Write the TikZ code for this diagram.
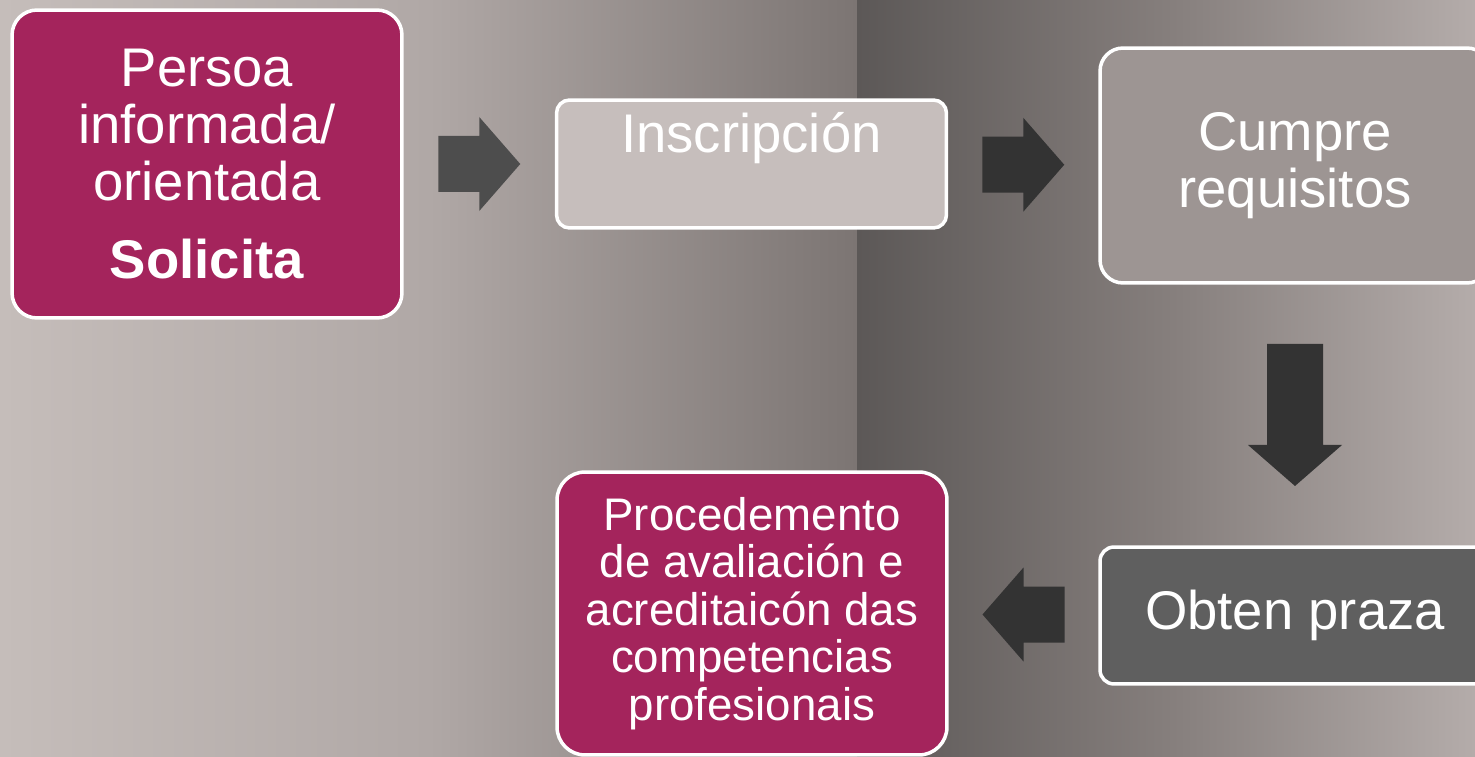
\documentclass[tikz,border=0pt]{standalone}
\usepackage{fontspec}
\setmainfont{Liberation Sans}
\usetikzlibrary{calc, positioning}

\definecolor{plum}{HTML}{A4245C}
\definecolor{paleboxgray}{HTML}{C6BEBC}
\definecolor{midboxgray}{HTML}{9D9593}
\definecolor{darkboxgray}{HTML}{5F5F5F}
\definecolor{arrowdark}{HTML}{333333}
\definecolor{arrowsoft}{HTML}{4D4D4D}
\definecolor{bgleftA}{HTML}{C5BDBA}
\definecolor{bgleftB}{HTML}{B0A8A6}
\definecolor{bgleftC}{HTML}{7C7573}
\definecolor{bgrightA}{HTML}{5C5857}
\definecolor{bgrightB}{HTML}{857E7C}
\definecolor{bgrightC}{HTML}{B4ACAA}

% block arrow pointing right, turned by #3, centred on #2
\newcommand{\blockarrow}[4]{%
  \fill[#1, shift={(#2)}, rotate=#3]
    (-#4,-28) -- ({#4-41},-28) -- ({#4-41},-47) -- (#4,0)
    -- ({#4-41},47) -- ({#4-41},28) -- (-#4,28) -- cycle;}

\begin{document}
\begin{tikzpicture}[x=0.02cm, y=-0.02cm,
  box/.style={draw=white, line width=2pt, align=center, text=white, inner sep=0pt, minimum width=7.8cm},
  bigtext/.style={font=\fontsize{31}{32.5}\selectfont},
  smalltext/.style={font=\fontsize{26}{27}\selectfont}]

\clip (0,0) rectangle (1475,757);
\shade[left color=bgleftA, right color=bgleftC, middle color=bgleftB] (0,0) rectangle (857,757);
\shade[left color=bgrightA, right color=bgrightC, middle color=bgrightB] (857,0) rectangle (1475,757);

\node[box, fill=plum, rounded corners=0.5cm, minimum height=6.16cm, bigtext] (persoa) at (207,164)
  {Persoa\\informada/\\orientada\\[12pt]\textbf{Solicita}};
\node[box, fill=paleboxgray, rounded corners=0.26cm, text height=1.04cm, text depth=1.52cm, bigtext] (inscr) at (751.5,164)
  {Inscripción};
\node[box, fill=midboxgray, rounded corners=0.46cm, minimum height=4.7cm, bigtext] (cumpre) at (1295,165.5)
  {Cumpre\\requisitos};
\node[box, fill=darkboxgray, rounded corners=0.28cm, minimum height=2.74cm, bigtext] (obten) at (1295,615.5)
  {Obten praza};
\node[box, fill=plum, rounded corners=0.56cm, minimum height=5.66cm, smalltext] (proced) at (752,613.5)
  {Procedemento\\de avaliación e\\acreditaicón das\\competencias\\profesionais};

\coordinate (a1) at ($(persoa.east)!0.5!(inscr.west)$);
\coordinate (a2) at ($(inscr.east)!0.5!(cumpre.west)$);
\coordinate (a3) at ($(cumpre.south)!0.5!(obten.north)$);
\coordinate (a4) at ($(obten.west)!0.5!(proced.east)$);

\blockarrow{arrowsoft}{a1}{0}{41}
\blockarrow{arrowdark}{a2}{0}{41}
\blockarrow{arrowdark}{a3}{-90}{71}
\blockarrow{arrowdark}{a4}{180}{41}

\end{tikzpicture}
\end{document}
